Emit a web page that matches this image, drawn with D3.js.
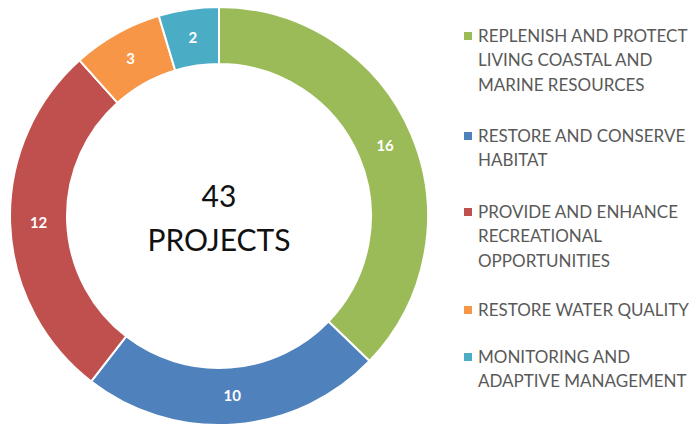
<!DOCTYPE html>
<html>
<head>
<meta charset="utf-8">
<script src="https://cdn.jsdelivr.net/npm/d3@7"></script>
<style>
  body { margin: 0; background: #fff; }
  svg text { font-family: Lato, "Open Sans", sans-serif; }
</style>
</head>
<body>
<svg id="chart" width="689" height="425"></svg>
<script>
'use strict';

// chart data
var categories = [
    'REPLENISH AND PROTECT LIVING COASTAL AND MARINE RESOURCES',
    'RESTORE AND CONSERVE HABITAT',
    'PROVIDE AND ENHANCE RECREATIONAL OPPORTUNITIES',
    'RESTORE WATER QUALITY',
    'MONITORING AND ADAPTIVE MANAGEMENT'
];
var legendLines = [
    ['REPLENISH AND PROTECT', 'LIVING COASTAL AND', 'MARINE RESOURCES'],
    ['RESTORE AND CONSERVE', 'HABITAT'],
    ['PROVIDE AND ENHANCE', 'RECREATIONAL', 'OPPORTUNITIES'],
    ['RESTORE WATER QUALITY'],
    ['MONITORING AND', 'ADAPTIVE MANAGEMENT']
];
var projectCounts = [16, 10, 12, 3, 2];
var colors = ['#9BBB59', '#4F81BD', '#C0504D', '#F79646', '#4BACC6'];

var cx = 219, cy = 216, outerR = 209, innerR = 152;

var svg = d3.select('#chart');
var g = svg.append('g').attr('transform', 'translate(' + cx + ',' + cy + ')');

var color = d3.scaleOrdinal().domain(categories).range(colors);

var pie = d3.pie().sort(null).value(function (d) { return d.value; });
var arc = d3.arc().innerRadius(innerR).outerRadius(outerR);
var labelArc = d3.arc().innerRadius((innerR + outerR) / 2).outerRadius((innerR + outerR) / 2);

var slices = pie(categories.map(function (c, i) { return { name: c, value: projectCounts[i] }; }));

g.selectAll('path.slice').data(slices).enter().append('path')
    .attr('class', 'slice')
    .attr('d', arc)
    .attr('fill', function (d) { return color(d.data.name); })
    .attr('stroke', '#fff')
    .attr('stroke-width', 2);

g.selectAll('text.value').data(slices).enter().append('text')
    .attr('class', 'value')
    .attr('transform', function (d) { return 'translate(' + labelArc.centroid(d) + ')'; })
    .attr('text-anchor', 'middle')
    .attr('dy', '0.35em')
    .attr('fill', '#fff')
    .attr('font-weight', 'bold')
    .attr('font-size', 15)
    .text(function (d) { return d.data.value; });

// center total
var total = d3.sum(projectCounts);
g.append('text').attr('text-anchor', 'middle').attr('y', -9)
    .attr('font-size', 30).attr('fill', '#111').text(total);
g.append('text').attr('text-anchor', 'middle').attr('y', 35)
    .attr('font-size', 30).attr('fill', '#111').text('PROJECTS');

// legend
var legendTop = [36, 136, 212, 310, 357];
var lineStep = 24.5;
var legend = svg.append('g').attr('class', 'legend');

legendLines.forEach(function (lines, i) {
    var item = legend.append('g').attr('transform', 'translate(0,' + legendTop[i] + ')');
    item.append('rect').attr('x', 464).attr('y', -4).attr('width', 8).attr('height', 8)
        .attr('fill', color(categories[i]));
    item.selectAll('text').data(lines).enter().append('text')
        .attr('x', 478)
        .attr('y', function (d, j) { return j * lineStep; })
        .attr('dy', '0.35em')
        .attr('font-size', 17)
        .attr('fill', '#595959')
        .text(function (d) { return d; });
});
</script>
</body>
</html>
